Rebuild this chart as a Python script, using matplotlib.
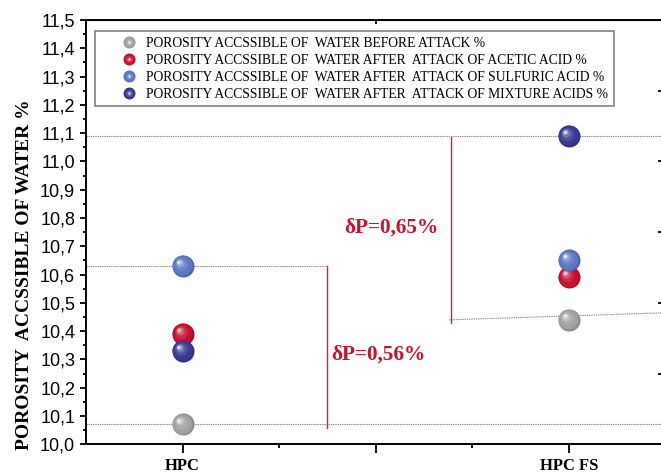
import numpy as np
import matplotlib
matplotlib.use("Agg")
import matplotlib.pyplot as plt
from matplotlib.colors import to_rgb
from matplotlib.lines import Line2D
from matplotlib.legend_handler import HandlerTuple
from matplotlib.transforms import ScaledTranslation
from matplotlib.ticker import MultipleLocator, FixedLocator, FuncFormatter

# porosity accessible to water (%) for each concrete
samples = ["HPC", "HPC FS"]
sample_x = [1, 3]
before_attack = [10.07, 10.44]
acetic_acid = [10.39, 10.59]
sulfuric_acid = [10.63, 10.65]
mixture_acids = [10.33, 11.09]

series = [before_attack, acetic_acid, sulfuric_acid, mixture_acids]
series_labels = [
    "POROSITY ACCSSIBLE OF  WATER BEFORE ATTACK %",
    "POROSITY ACCSSIBLE OF  WATER AFTER  ATTACK OF ACETIC ACID %",
    "POROSITY ACCSSIBLE OF  WATER AFTER  ATTACK OF SULFURIC ACID %",
    "POROSITY ACCSSIBLE OF  WATER AFTER  ATTACK OF MIXTURE ACIDS %",
]
series_colors = ["#a2a2a2", "#c8102e", "#5a78c4", "#3a3a94"]

SERIF = "Liberation Serif"
SANS = "Liberation Sans"

fig = plt.figure(figsize=(6.61, 4.75), dpi=100)
ax = fig.add_axes([86 / 661, 1 - 444.3 / 475, 579.5 / 661, 424.3 / 475])

# shading layers for the glossy balls: radius fraction, offset (fraction of diameter), mix with white
layers = [(1.0, 0.0, -0.15), (0.9, 0.03, 0.0), (0.6, 0.09, 0.1),
          (0.38, 0.14, 0.3), (0.22, 0.18, 0.6), (0.11, 0.2, 0.92)]


def shade(color, mix):
    c = np.array(to_rgb(color))
    if mix < 0:
        return c * (1 + mix)
    return c * (1 - mix) + mix


def draw_balls(x, y, color, diam_px=22):
    d_pt = diam_px * 72 / fig.dpi
    for f, off, mix in layers:
        shift = ScaledTranslation(-off * d_pt / 72, off * d_pt / 72, fig.dpi_scale_trans)
        ax.scatter(x, y, s=(f * d_pt) ** 2, color=shade(color, mix), linewidths=0,
                   transform=ax.transData + shift, zorder=5, clip_on=False)


for vals, color in zip(series, series_colors):
    draw_balls(sample_x, vals, color)

# guide lines between the lowest and highest porosity of each concrete
dot = dict(color="#8a8a8a", lw=0.8, linestyle=(0, (1.2, 0.8)), zorder=2)
x_hpc_bar, x_fs_bar = 1.746, 2.39
ax.plot([0.5, 3.5], [mixture_acids[1]] * 2, **dot)
ax.plot([0.5, 3.5], [before_attack[0]] * 2, **dot)
ax.plot([0.5, x_hpc_bar], [sulfuric_acid[0]] * 2, **dot)
ax.plot([x_fs_bar - 0.01, 3.5], [before_attack[1], before_attack[1] + 0.025], **dot)

red = "#d4213a"
ax.plot([x_hpc_bar] * 2, [sulfuric_acid[0], before_attack[0] - 0.012], color=red, lw=1.0, zorder=3)
ax.plot([x_fs_bar] * 2, [mixture_acids[1] - 0.004, before_attack[1] - 0.012], color=red, lw=1.0, zorder=3)

d_hpc = sulfuric_acid[0] - before_attack[0]
d_fs = mixture_acids[1] - before_attack[1]
ax.text(1.772, 10.318, f"δP={d_hpc:.2f}%".replace(".", ","), color="#c41230",
        fontsize=15.3, fontweight="bold", family=SERIF, va="center", ha="left")
ax.text(1.839, 10.765, f"δP={d_fs:.2f}%".replace(".", ","), color="#c41230",
        fontsize=15.3, fontweight="bold", family=SERIF, va="center", ha="left")

ax.set_xlim(0.5, 3.5)
ax.set_ylim(10.0, 11.5)

ax.xaxis.set_major_locator(FixedLocator([1, 2, 3]))
ax.xaxis.set_minor_locator(FixedLocator([1.5, 2.5]))
ax.set_xticklabels([samples[0], "", samples[1]], family=SERIF, fontweight="bold", fontsize=12)
ax.yaxis.set_major_locator(MultipleLocator(0.1))
ax.yaxis.set_minor_locator(MultipleLocator(0.05))
ax.yaxis.set_major_formatter(FuncFormatter(lambda v, p: f"{v:.1f}".replace(".", ",")))
for lab in ax.get_yticklabels():
    lab.set_family(SANS)
    lab.set_fontsize(13)

ax.tick_params(axis="x", which="major", direction="out", length=6.2, width=1.3, pad=4.0)
ax.tick_params(axis="x", which="minor", direction="out", length=3, width=1.3)
ax.tick_params(axis="y", which="major", direction="out", length=4.3, width=1.3, pad=3.5)
ax.tick_params(axis="y", which="minor", direction="out", length=2.5, width=1.3)
ax.tick_params(top=False, right=False, which="both")
for sp in ax.spines.values():
    sp.set_linewidth(1.4)

top = ax.secondary_xaxis("top")
top.set_xticks([2])
top.tick_params(direction="in", length=3, width=1.3, labeltop=False)
right = ax.secondary_yaxis("right")
right.set_yticks([10.25, 10.5, 10.75, 11.0, 11.25])
right.tick_params(direction="in", length=6, width=1.3, labelright=False)

ax.set_ylabel("POROSITY  ACCSSIBLE OF WATER %", family=SERIF, fontweight="bold", fontsize=14)
ax.yaxis.set_label_coords(-0.091, 0.40)

handles = []
for color in series_colors:
    parts = []
    for f, off, mix in layers:
        parts.append(Line2D([], [], ls="none", marker="o", markersize=8.6 * f,
                            markeredgewidth=0, color=shade(color, mix)))
    handles.append(tuple(parts))

leg = ax.legend(handles, series_labels, handler_map={tuple: HandlerTuple(ndivide=1, pad=0)},
                loc="upper left", bbox_to_anchor=(0.0155, 0.974), borderaxespad=0,
                prop={"family": SERIF, "size": 9.85}, frameon=True, fancybox=False,
                edgecolor="#555555", borderpad=0.4, labelspacing=0.3,
                handlelength=4.2, handletextpad=-0.85)
leg.get_frame().set_linewidth(1.1)

fig.savefig("out.png", dpi=100)
